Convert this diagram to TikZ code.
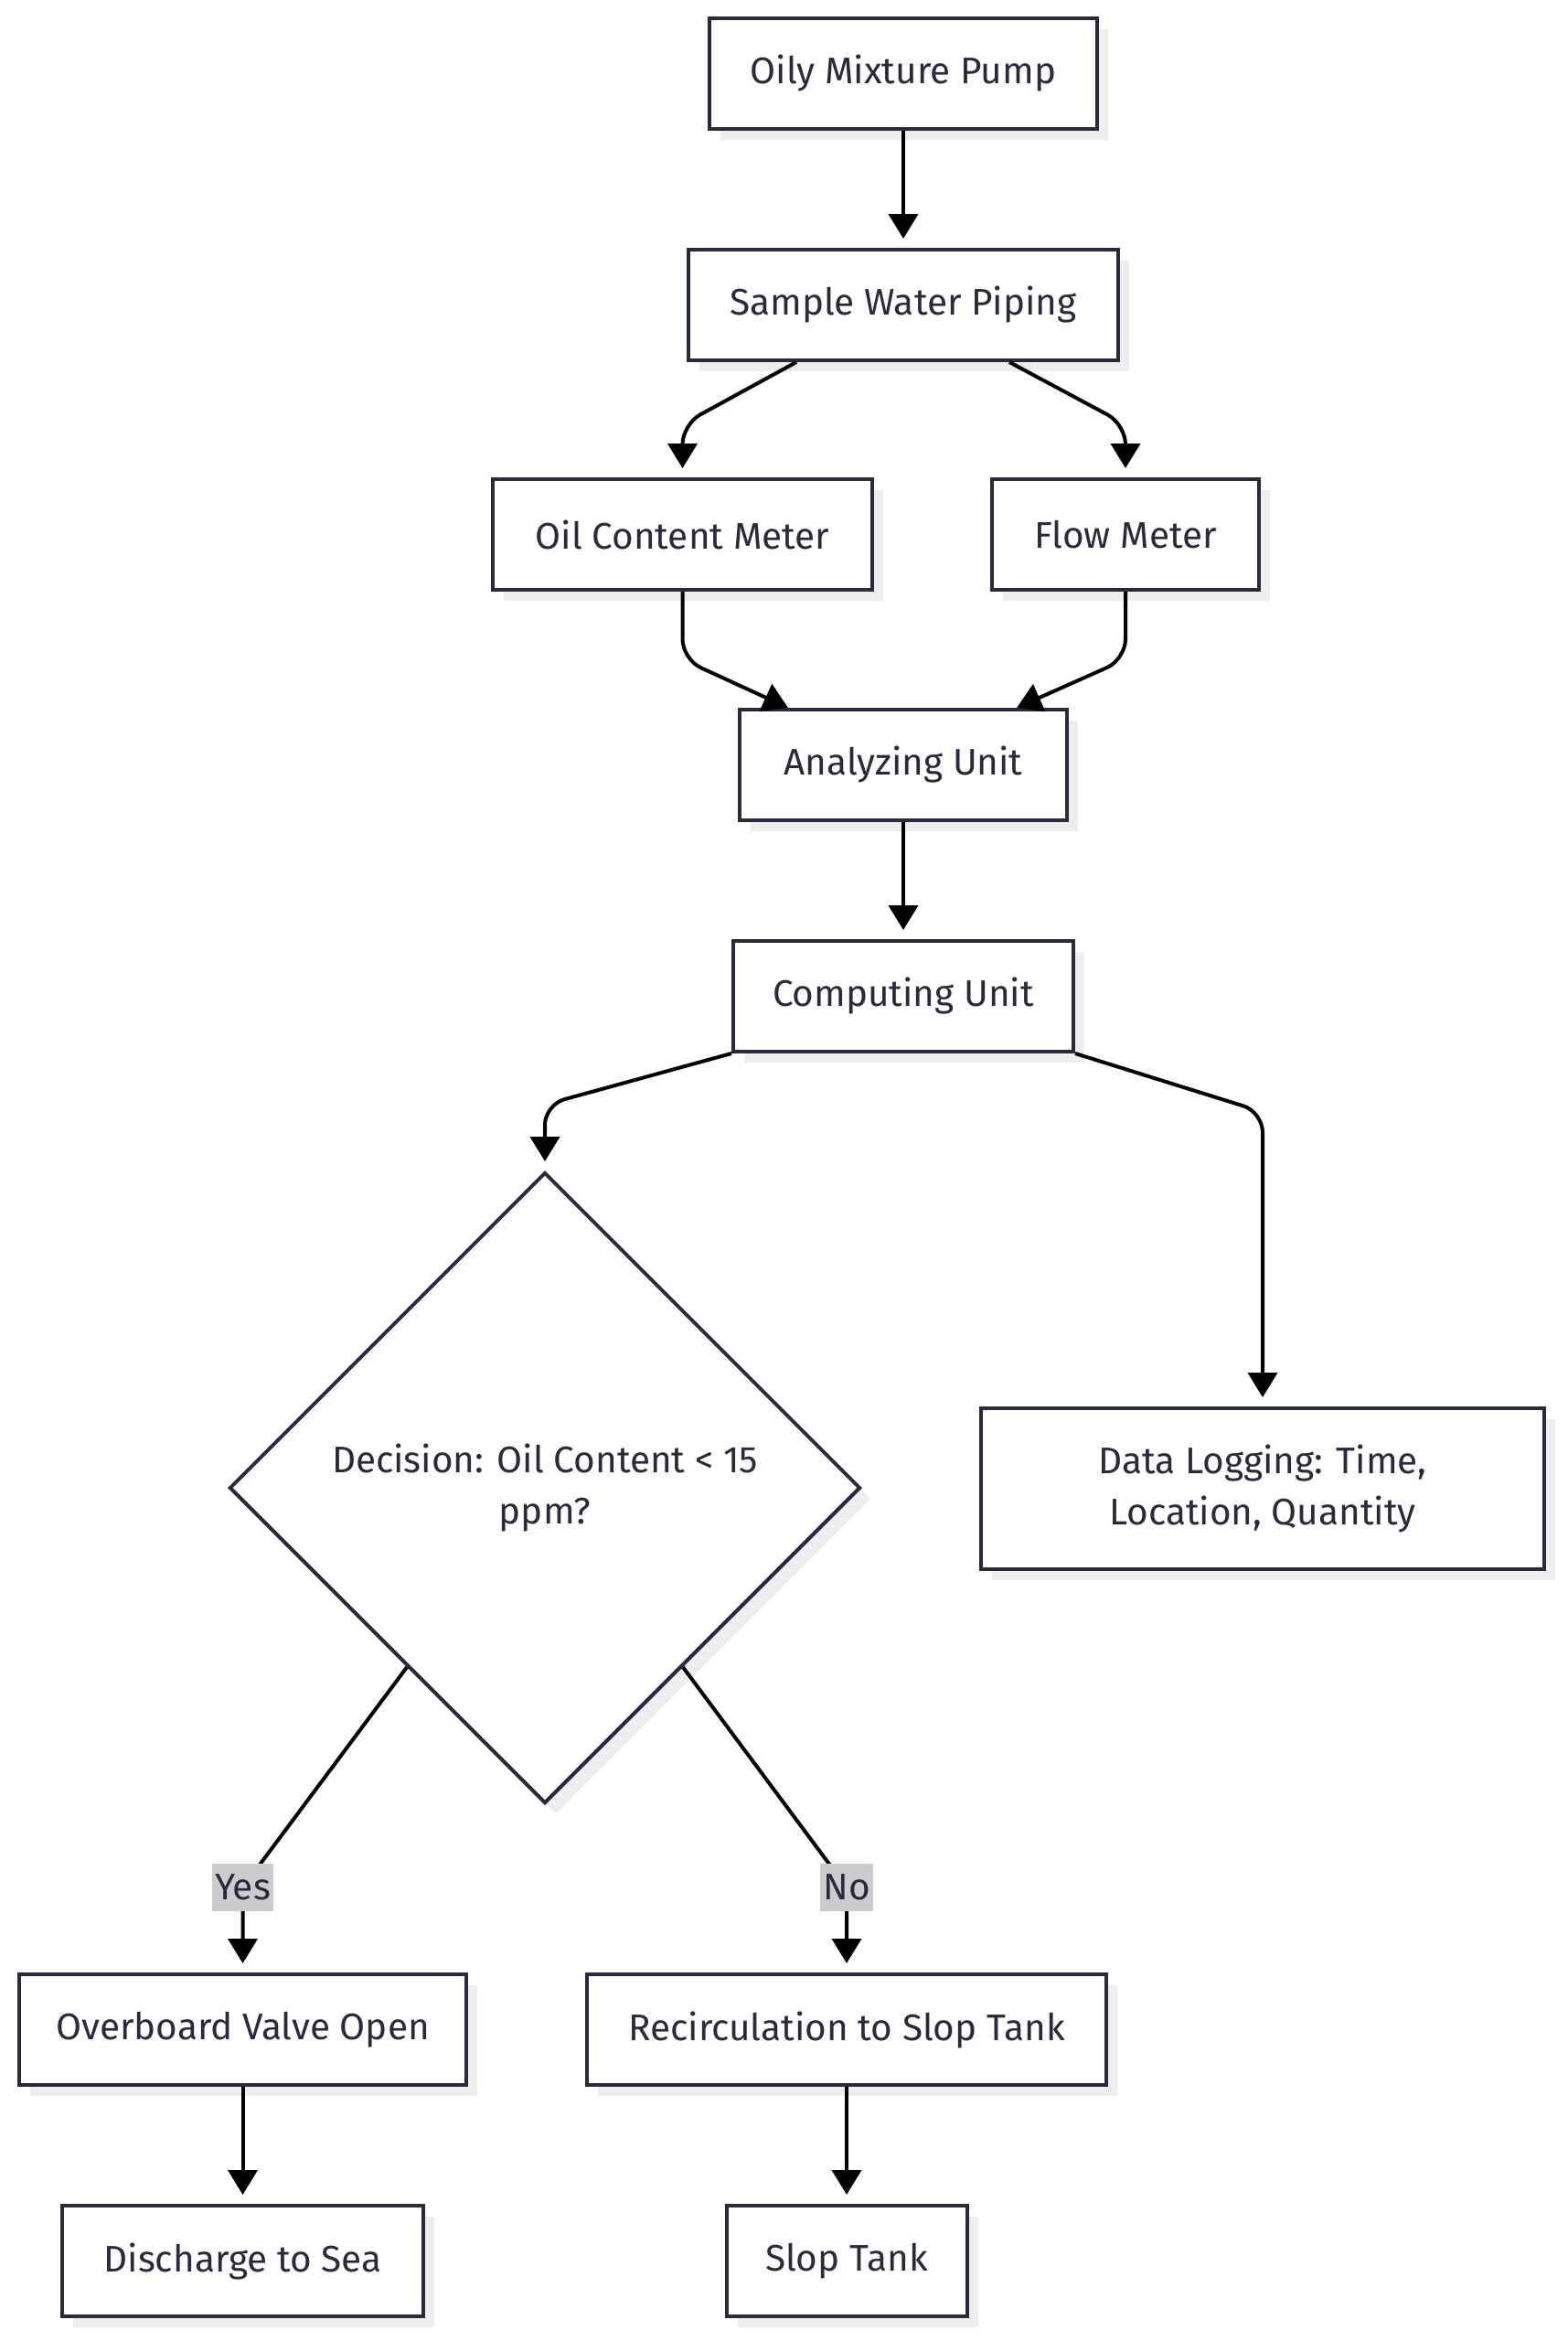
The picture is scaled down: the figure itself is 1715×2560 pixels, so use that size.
\documentclass[tikz,border=0pt]{standalone}
\usepackage{fontspec}
\setmainfont{Fira Sans}
\usetikzlibrary{positioning,shapes.geometric,arrows.meta,shadows,calc}
\definecolor{inkc}{RGB}{42,42,62}
\definecolor{shadowc}{RGB}{238,238,238}
\definecolor{lblgray}{RGB}{204,204,206}
\begin{document}
\begin{tikzpicture}[x=1pt, y=1pt, on grid, node distance=253pt,
    box/.style = {draw=inkc, line width=4pt, fill=white, text=inkc, minimum height=121pt,
      font=\fontsize{40.5}{56}\selectfont, align=center,
      drop shadow={shadow xshift=12pt, shadow yshift=-12pt, fill=shadowc, opacity=1}},
    decision/.style = {box, diamond, aspect=1, minimum width=690pt, minimum height=690pt, inner sep=0pt},
    edge/.style = {line width=4pt, -{Triangle[width=32pt,length=27pt]}, shorten >=10pt, rounded corners=22pt},
    lbl/.style = {sharp corners, fill=lblgray, text=inkc, font=\fontsize{40.5}{56}\selectfont, inner sep=3pt, minimum height=52pt}]
    \useasboundingbox (0,0) rectangle (1715,-2560);
    \node[box, minimum width=424pt] (pump) at (988,-80.5) {Oily Mixture Pump};
    \node[box, minimum width=470pt] (piping) [below=of pump] {Sample Water Piping};
    \node[box, minimum width=415pt] (ocm) [below left=251pt and 241.5pt of piping] {Oil Content Meter};
    \node[box, minimum width=292pt] (flow) [below right=251pt and 243pt of piping] {Flow Meter};
    \node[box, minimum width=358pt] (au) [below=503pt of piping] {Analyzing Unit};
    \node[box, minimum width=372pt] (cu) [below=of au] {Computing Unit};
    \node[decision] (dec) [below left=537.5pt and 392pt of cu] {Decision: Oil Content < 15\\ppm?};
    \node[box, minimum width=616pt, minimum height=176pt] (log) [below right=538.5pt and 393pt of cu] {Data Logging: Time,\\Location, Quantity};
    \node[box, minimum width=489pt] (ov) [below left=592.5pt and 330.5pt of dec] {Overboard Valve Open};
    \node[box, minimum width=568pt] (rec) [below right=592.5pt and 330pt of dec] {Recirculation to Slop Tank};
    \node[box, minimum width=395pt] (dis) [below=of ov] {Discharge to Sea};
    \node[box, minimum width=263pt] (slop) [below=of rec] {Slop Tank};
    \draw[edge] (pump) -- (piping);
    \draw[edge] ([xshift=-117pt]piping.south) -- ([yshift=58pt]ocm.north) -- (ocm.north);
    \draw[edge] ([xshift=116pt]piping.south) -- ([yshift=58pt]flow.north) -- (flow.north);
    \draw[edge, shorten >=0pt] (ocm.south) -- ([yshift=-74pt]ocm.south) -- ([xshift=-126pt]au.north);
    \draw[edge, shorten >=0pt] (flow.south) -- ([yshift=-74pt]flow.south) -- ([xshift=124pt]au.north);
    \draw[edge] (au) -- (cu);
    \draw[edge] (cu.south west) -- ([yshift=72pt]dec.north) -- (dec.north);
    \draw[edge] (cu.south east) -- ([yshift=322pt]log.north) -- (log.north);
    \draw[edge] ($(dec.south west)!0.13!(dec.south)$) -- ([yshift=93pt]ov.north) node[lbl] {Yes} -- (ov.north);
    \draw[edge] ($(dec.south east)!0.13!(dec.south)$) -- ([yshift=93pt]rec.north) node[lbl] {No} -- (rec.north);
    \draw[edge] (ov) -- (dis);
    \draw[edge] (rec) -- (slop);
\end{tikzpicture}
\end{document}
